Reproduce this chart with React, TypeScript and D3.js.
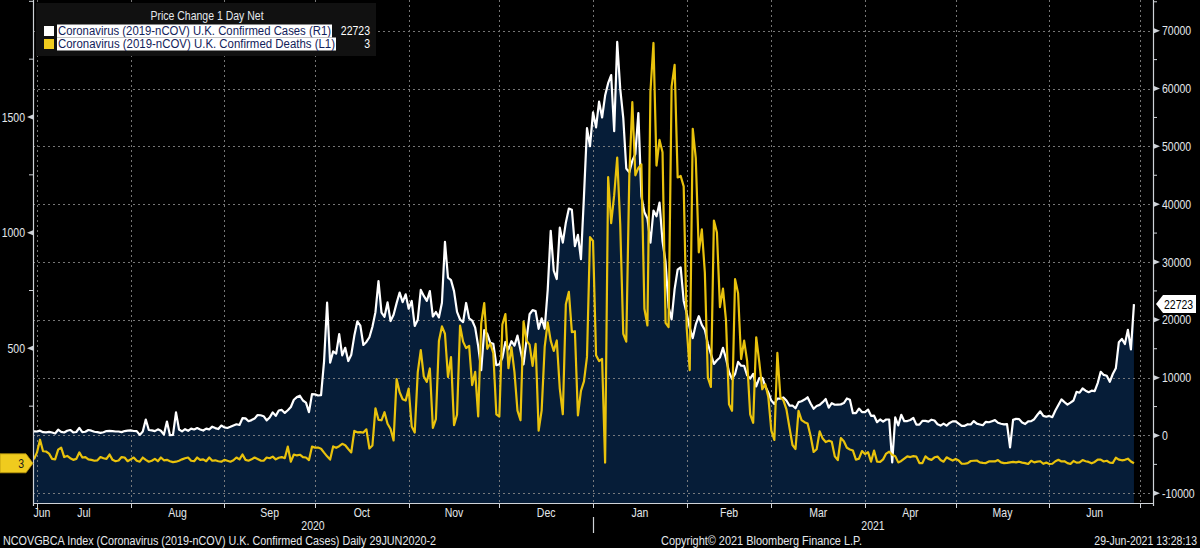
import React from "react";
import * as d3 from "d3";

// ---- DATA (daily, first point dated 30 Jun 2020) ----
const firstDate = Date.UTC(2020, 5, 30);

// U.K. confirmed cases, 1-day net change (right axis)
const cases = [
  700, 689,
  // Jul
  829, 576, 544, 624, 516, 352, 1000, 630, 512, 820, 950, 530, 598, 1300, 581, 642, 950, 827, 650, 580, 445, 560, 769, 798, 767, 685, 685, 581, 763, 846, 880,
  // Aug
  771, 744, 100, 670, 2760, 950, 871, 758, 1062, 816, 150, 2400, 50, 100, 4000, 1040, 713, 1089, 812, 1182, 1033, 1288, 1041, 853, 1184, 1048, 1522, 1276, 1108, 1715, 1406,
  // Sep
  1295, 1508, 1735, 1940, 1813, 2988, 2948, 2460, 2659, 2919, 3539, 3497, 3330, 2621, 3105, 3991, 3395, 4322, 4422, 3899, 4368, 4926, 6178, 6634, 6874, 6042, 5693, 4044, 7143, 7108,
  // Oct
  6914, 6968, 12872, 22961, 12594, 14542, 14162, 17540, 13864, 15166, 12872, 13972, 17234, 19724, 18980, 15650, 16171, 16982, 18804, 21331, 26688, 21242, 20530, 23012, 19790, 20890, 22885, 24701, 23065, 24405, 21915,
  // Nov
  23254, 18950, 20018, 25177, 24141, 23287, 24957, 20572, 21350, 20412, 22950, 33470, 27301, 26860, 24962, 21363, 20051, 19609, 22915, 20252, 19875, 18662, 15450, 11299, 18213, 17555, 16022, 15871, 12155, 12330,
  // Dec
  13430, 16170, 14879, 16298, 15539, 17272, 14718, 12282, 16578, 20964, 21672, 21502, 18447, 20263, 18450, 25161, 35383, 28507, 27052, 35928, 33364, 36804, 39237, 39036, 32725, 34693, 30501, 41385, 53135, 50023, 55892,
  // Jan
  53285, 57725, 54990, 58784, 60916, 62322, 52618, 68053, 59937, 54940, 46165, 45533, 47525, 48682, 55761, 41346, 38598, 37535, 33355, 38905, 37892, 40261, 33552, 30004, 22195, 20089, 25308, 28680, 29079, 23275, 21088,
  // Feb
  18607, 16840, 19202, 20634, 19114, 18262, 15845, 14104, 12364, 13013, 13494, 15144, 13308, 10972, 9765, 10625, 12718, 12057, 12027, 10406, 9834, 10641, 8489, 9938, 9985, 8523, 7434, 6035,
  // Mar
  5455, 6391, 6385, 6573, 6040, 5177, 5177, 4712, 5766, 5926, 6218, 6609, 5534, 4618, 5089, 5294, 5758, 6303, 4802, 5587, 5312, 5342, 5379, 5605, 6397, 6187, 3862, 3862, 4654, 4052, 4040,
  // Apr
  4479, 3402, 3423, 2297, 2762, 2379, 2763, 2763, -4650, 3150, 1730, 3568, 2472, 2491, 2672, 3029, 1882, 1882, 2524, 2524, 2396, 2729, 2596, 1946, 1712, 2064, 1712, 2166, 2443, 2445,
  // May
  2040, 1649, 1671, 1946, 1898, 2490, 2047, 1907, 1770, 2357, 2284, 2472, 2657, 2193, 2027, 1926, 1979, -2070, 2696, 2874, 2829, 2235, 1979, 2439, 2489, 2809, 3542, 4182, 3398, 3240, 3383,
  // Jun
  3165, 4330, 5274, 6238, 5765, 5341, 5683, 6048, 7540, 7393, 8125, 7738, 7490, 7742, 7673, 9055, 11007, 10476, 10321, 9284, 10633, 11625, 16135, 16703, 15810, 18270, 14876, 22723,
];

// U.K. confirmed deaths, 1-day net change (left axis)
const deaths = [
  20, 50,
  // Jul
  105, 55, 54, 45, 22, 20, 62, 71, 30, 35, 25, 18, 22, 50, 28, 30, 20, 18, 14, 16, 30, 25, 22, 41, 18, 12, 15, 30, 28, 12, 20,
  // Aug
  28, 14, 10, 28, 18, 10, 14, 22, 12, 28, 16, 18, 12, 8, 10, 14, 20, 25, 28, 14, 12, 28, 18, 20, 12, 28, 14, 16, 12, 10, 18,
  // Sep
  14, 10, 16, 28, 20, 41, 18, 14, 20, 28, 22, 15, 14, 28, 25, 32, 20, 27, 30, 25, 75, 10, 41, 37, 40, 30, 28, 17, 75, 71,
  // Oct
  71, 66, 49, 33, 19, 76, 70, 77, 87, 81, 65, 50, 143, 137, 138, 136, 150, 67, 80, 241, 191, 189, 224, 174, 151, 102, 367, 310, 280, 274, 326,
  // Nov
  162, 136, 397, 492, 378, 355, 413, 156, 194, 532, 595, 563, 376, 462, 168, 213, 598, 529, 501, 511, 341, 398, 206, 608, 696, 498, 521, 479, 215, 205,
  // Dec
  603, 648, 414, 504, 397, 231, 189, 616, 533, 516, 424, 519, 144, 232, 506, 612, 532, 489, 534, 326, 215, 691, 744, 570, 574, 210, 316, 357, 463, 981, 964,
  // Jan
  470, 445, 454, 6, 1240, 1041, 1162, 1325, 1035, 563, 529, 1243, 1564, 1248, 1280, 1295, 671, 599, 1610, 1820, 1290, 1401, 1348, 610, 592, 1631, 1725, 1239, 1245, 1200, 587,
  // Feb
  406, 1449, 1322, 915, 1014, 828, 373, 333, 1052, 1001, 678, 758, 621, 258, 230, 799, 738, 454, 533, 445, 215, 178, 548, 442, 323, 345, 290, 144,
  // Mar
  104, 480, 290, 275, 236, 158, 82, 65, 230, 190, 181, 175, 121, 52, 64, 141, 110, 95, 101, 96, 33, 17, 112, 98, 70, 63, 58, 19, 23, 56, 43,
  // Apr
  51, 10, 58, 10, 9, 20, 45, 53, 40, 34, 7, 13, 23, 33, 30, 34, 32, 4, 4, 33, 22, 18, 29, 32, 17, 10, 29, 22, 15, 22,
  // May
  15, 1, 1, 4, 13, 14, 15, 7, 5, 4, 11, 11, 11, 17, 7, 4, 5, 7, 9, 7, 10, 6, 4, 0, 14, 7, 10, 12, 1, 6, 0,
  // Jun
  1, 12, 18, 11, 12, 4, 0, 13, 6, 7, 17, 12, 9, 3, 9, 19, 19, 11, 14, 6, 5, 27, 19, 16, 18, 23, 11, 3,
];

const rightTicks = [-10000, 0, 10000, 20000, 30000, 40000, 50000, 60000, 70000];
const rightMinor = [-5000, 5000, 15000, 25000, 35000, 45000, 55000, 65000, 75000];
const leftTicks = [500, 1000, 1500];
const leftMinor = [250, 750, 1250, 1750, 2000];
const monthNames = ["Jan", "Feb", "Mar", "Apr", "May", "Jun", "Jul", "Aug", "Sep", "Oct", "Nov", "Dec"];
const yearLabels = ["2020", "2021"];

const legendTitle = "Price Change 1 Day Net";
const seriesNames = [
  "Coronavirus (2019-nCOV) U.K. Confirmed Cases  (R1)",
  "Coronavirus (2019-nCOV) U.K. Confirmed Deaths  (L1)",
];
const footerLeft = "NCOVGBCA Index (Coronavirus (2019-nCOV) U.K. Confirmed Cases)  Daily 29JUN2020-2";
const footerMid = "Copyright\u00A9 2021 Bloomberg Finance L.P.";
const footerRight = "29-Jun-2021 13:28:13";

// ---- STYLE ----
const W = 1200;
const H = 548;
const FONT = "'Liberation Sans','DejaVu Sans',sans-serif";
const FS = 12.5;
const SX = 0.84;
const WHITE = "#ffffff";
const YELLOW = "#e9c20c";
const NAVY = "#061d38";
const GRID = "#8a8a8a";
const AXIS = "#cfd3d8";
const TEXT = "#e4e8ec";

// narrow text: draws with horizontal compression around its anchor point
function T(props: any) {
  const { x, y, children, anchor, fill, size, ...rest } = props;
  return (
    <text
      transform={`translate(${x},${y}) scale(${SX},1)`}
      fill={fill || TEXT}
      fontSize={size || FS}
      textAnchor={anchor || "start"}
      {...rest}
    >
      {children}
    </text>
  );
}

export default function App() {
  const plot = { left: 33, right: 1153, top: 0, bottom: 503 };
  const dayMs = 86400000;
  const rows = cases.map((c, i) => ({
    date: new Date(firstDate + i * dayMs),
    cases: c,
    deaths: deaths[i],
  }));
  const lastRow = rows[rows.length - 1];

  const x = d3
    .scaleUtc()
    .domain([new Date(Date.UTC(2020, 6, 1)), new Date(Date.UTC(2021, 6, 1))])
    .range([37, 1140]);
  const yR = d3.scaleLinear().domain([-10000, 70000]).range([493.3, 30.7]);
  const yL = d3.scaleLinear().domain([0, 1500]).range([464, 117]);

  const area = d3
    .area<any>()
    .x((d) => x(d.date))
    .y0(plot.bottom)
    .y1((d) => yR(d.cases));
  const casesLine = d3
    .line<any>()
    .x((d) => x(d.date))
    .y((d) => yR(d.cases));
  const deathsLine = d3
    .line<any>()
    .x((d) => x(d.date))
    .y((d) => yL(d.deaths));

  const monthStarts = d3.utcMonth.range(new Date(Date.UTC(2020, 6, 1)), new Date(Date.UTC(2021, 6, 2)));
  const plotStartDate = x.invert(plot.left);
  const plotEndDate = x.invert(plot.right);
  const allMonths = d3.utcMonth.range(new Date(Date.UTC(2020, 5, 1)), new Date(Date.UTC(2021, 6, 1)));
  const monthLabelPos = allMonths.map((m) => {
    const next = d3.utcMonth.offset(m, 1);
    const s = Math.max(+m, +plotStartDate);
    const e = Math.min(+next, +plotEndDate);
    let cx = (x(new Date(s)) + x(new Date(e))) / 2;
    cx = Math.max(cx, plot.left + 9);
    return { label: monthNames[m.getUTCMonth()], cx };
  });
  const yearSplit = x(new Date(Date.UTC(2021, 0, 1)));
  const yearPos = [(plot.left + yearSplit) / 2, (yearSplit + plot.right) / 2];

  const rightLabelY = yR(lastRow.cases);
  const leftLabelY = yL(lastRow.deaths);

  return (
    <svg
      width={W}
      height={H}
      style={{ position: "absolute", left: 0, top: 0, display: "block" }}
      fontFamily={FONT}
    >
      <defs>
        <clipPath id="plotClip">
          <rect x={plot.left} y={plot.top} width={plot.right - plot.left} height={plot.bottom - plot.top} />
        </clipPath>
      </defs>
      <rect x={0} y={0} width={W} height={H} fill="#000" />

      {/* area under cases */}
      <path d={area(rows) || ""} fill={NAVY} clipPath="url(#plotClip)" />

      {/* grid */}
      <g stroke={GRID} strokeWidth={1} strokeDasharray="2,3" opacity={0.85}>
        {rightTicks.map((t) => (
          <line key={"h" + t} x1={plot.left} x2={plot.right} y1={Math.round(yR(t)) + 0.5} y2={Math.round(yR(t)) + 0.5} />
        ))}
        {monthStarts.map((m) => (
          <line key={"v" + +m} x1={Math.round(x(m)) + 0.5} x2={Math.round(x(m)) + 0.5} y1={plot.top} y2={plot.bottom} />
        ))}
      </g>

      {/* lines */}
      <g clipPath="url(#plotClip)" fill="none" strokeLinejoin="round">
        <path d={casesLine(rows) || ""} stroke={WHITE} strokeWidth={2.2} />
        <path d={deathsLine(rows) || ""} stroke={YELLOW} strokeWidth={2.2} />
      </g>

      {/* x axis */}
      <line x1={plot.left} x2={plot.right} y1={plot.bottom + 0.5} y2={plot.bottom + 0.5} stroke={AXIS} strokeWidth={1} />
      {monthStarts.map((m) => (
        <line
          key={"xt" + +m}
          x1={Math.round(x(m)) + 0.5}
          x2={Math.round(x(m)) + 0.5}
          y1={plot.bottom}
          y2={plot.bottom + 5}
          stroke={AXIS}
        />
      ))}
      {monthLabelPos.map((m, i) => (
        <T key={"ml" + i} x={m.cx} y={517} anchor="middle">
          {m.label}
        </T>
      ))}
      {yearLabels.map((y, i) => (
        <T key={"yl" + y} x={yearPos[i]} y={530} anchor="middle">
          {y}
        </T>
      ))}
      <line x1={Math.round(yearSplit) + 0.5} x2={Math.round(yearSplit) + 0.5} y1={517} y2={533} stroke={AXIS} strokeWidth={1.2} />

      {/* left axis */}
      <line x1={plot.left + 0.5} x2={plot.left + 0.5} y1={0} y2={plot.bottom + 3} stroke={AXIS} strokeWidth={1.2} />
      {leftMinor.map((t) => (
        <line key={"lm" + t} x1={plot.left - 4} x2={plot.left} y1={yL(t)} y2={yL(t)} stroke={AXIS} />
      ))}
      {leftTicks.map((t) => (
        <g key={"lt" + t}>
          <polygon
            points={`${plot.left},${yL(t) - 2.5} ${plot.left},${yL(t) + 2.5} ${plot.left - 6},${yL(t)}`}
            fill={AXIS}
          />
          <T x={plot.left - 8} y={yL(t) + 4.5} anchor="end">
            {t}
          </T>
        </g>
      ))}

      {/* right axis */}
      <line x1={plot.right + 0.5} x2={plot.right + 0.5} y1={0} y2={plot.bottom + 3} stroke={AXIS} strokeWidth={1.2} />
      {rightMinor.map((t) => (
        <line key={"rm" + t} x1={plot.right} x2={plot.right + 4} y1={yR(t)} y2={yR(t)} stroke={AXIS} />
      ))}
      {rightTicks.map((t) => (
        <g key={"rt" + t}>
          <polygon
            points={`${plot.right + 1},${yR(t) - 2.5} ${plot.right + 1},${yR(t) + 2.5} ${plot.right + 7},${yR(t)}`}
            fill={AXIS}
          />
          <T x={plot.right + 9} y={yR(t) + 4.5}>
            {t < 0 ? "-" + Math.abs(t) : String(t)}
          </T>
        </g>
      ))}

      {/* last value tags */}
      <polygon
        points={`${plot.right + 3},${rightLabelY} ${plot.right + 10},${rightLabelY - 9} ${W - 4},${rightLabelY - 9} ${W - 4},${rightLabelY + 9} ${plot.right + 10},${rightLabelY + 9}`}
        fill={WHITE}
      />
      <T x={plot.right + 11} y={rightLabelY + 4.5} fill="#000">
        {String(lastRow.cases)}
      </T>
      <polygon
        points={`0,${leftLabelY - 9.5} ${plot.left - 7},${leftLabelY - 9.5} ${plot.left},${leftLabelY} ${plot.left - 7},${leftLabelY + 9.5} 0,${leftLabelY + 9.5}`}
        fill="#f0cb1e"
        stroke="#b8960a"
        strokeWidth={0.8}
      />
      <T x={plot.left - 9} y={leftLabelY + 4.5} fill="#1a1a1a" anchor="end">
        {String(lastRow.deaths)}
      </T>

      {/* legend */}
      <rect x={36} y={3} width={340} height={53} fill="#111111" />
      <T x={207} y={20} anchor="middle">
        {legendTitle}
      </T>
      {seriesNames.map((name, i) => {
        const cy = 31 + i * 13;
        const w = i === 0 ? 275 : 279;
        const val = i === 0 ? lastRow.cases : lastRow.deaths;
        return (
          <g key={name}>
            <rect x={44} y={cy - 5} width={10} height={10} fill={i === 0 ? WHITE : "#f0cb1e"} />
            <rect x={57} y={cy - 6.5} width={w} height={13} fill={WHITE} />
            <text x={58} y={cy + 4} fill="#12225a" fontSize={FS} textLength={w - 2} lengthAdjust="spacingAndGlyphs">
              {name}
            </text>
            <T x={370} y={cy + 4} fill={WHITE} anchor="end">
              {String(val)}
            </T>
          </g>
        );
      })}

      {/* footer */}
      <text x={3} y={545} fill={TEXT} fontSize={FS} textLength={433} lengthAdjust="spacingAndGlyphs">
        {footerLeft}
      </text>
      <text x={661} y={545} fill={TEXT} fontSize={FS} textLength={201} lengthAdjust="spacingAndGlyphs">
        {footerMid}
      </text>
      <T x={1197} y={545} anchor="end">
        {footerRight}
      </T>
    </svg>
  );
}
